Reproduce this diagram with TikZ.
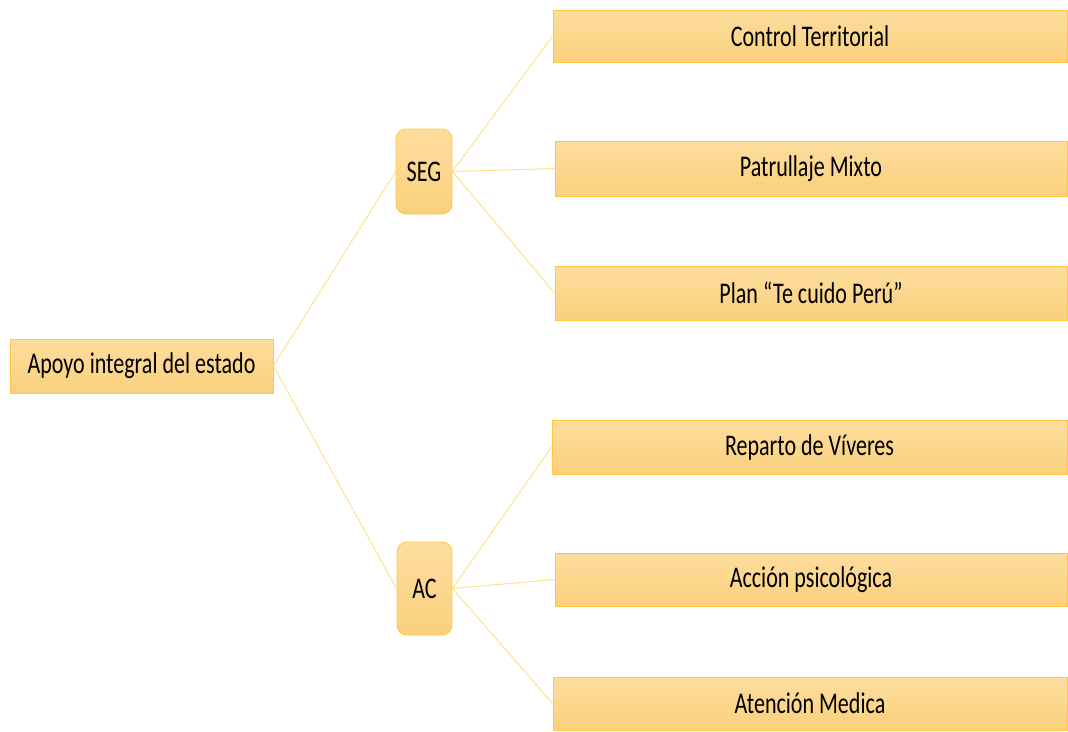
\documentclass[tikz,border=0pt]{standalone}
\usepackage{fontspec}
\setmainfont{Carlito}[FakeStretch=0.735]
\usetikzlibrary{positioning}
\definecolor{boxtop}{HTML}{FDDD9E}
\definecolor{boxbot}{HTML}{FAD07C}
\definecolor{boxline}{HTML}{FFC840}
\definecolor{conn}{HTML}{FFE08C}
\tikzset{
  box/.style={draw=boxline, line width=0.8pt, top color=boxtop, bottom color=boxbot, inner sep=0pt, font=\fontsize{30}{33}\selectfont, text=black},
  rbox/.style={box, rounded corners=10pt},
  link/.style={draw=conn, line width=1pt}
}
\begin{document}
\begin{tikzpicture}[x=1pt,y=-1pt]
\useasboundingbox (0,0) rectangle (1068,731);
\node[box, minimum width=263pt, minimum height=54pt] (root) at (141.5,366) {Apoyo integral del estado};
\node[rbox, minimum width=56pt, minimum height=85pt] (seg) at (424,171.5) {SEG};
\node[rbox, minimum width=55pt, minimum height=93pt] (ac) at (424.5,588.5) {AC};
\node[box, minimum width=514pt, minimum height=52pt] (ct) at (810,36) {Control Territorial};
\node[box, minimum width=512pt, minimum height=55pt] (pm) at (811,168.5) {Patrullaje Mixto};
\node[box, minimum width=512pt, minimum height=54pt] (pl) at (811,293) {Plan “Te cuido Perú”};
\node[box, minimum width=515pt, minimum height=54pt] (rv) at (809.5,447) {Reparto de Víveres};
\node[box, minimum width=512pt, minimum height=53pt] (ap) at (811,579.5) {Acción psicológica};
\node[box, minimum width=514pt, minimum height=53pt] (am) at (810,703.5) {Atención Medica};
\draw[link] (root.east) -- (seg.west);
\draw[link] (root.east) -- (ac.west);
\draw[link] (seg.east) -- (ct.west);
\draw[link] (seg.east) -- (pm.west);
\draw[link] (seg.east) -- (pl.west);
\draw[link] (ac.east) -- (rv.west);
\draw[link] (ac.east) -- (ap.west);
\draw[link] (ac.east) -- (am.west);
\end{tikzpicture}
\end{document}
